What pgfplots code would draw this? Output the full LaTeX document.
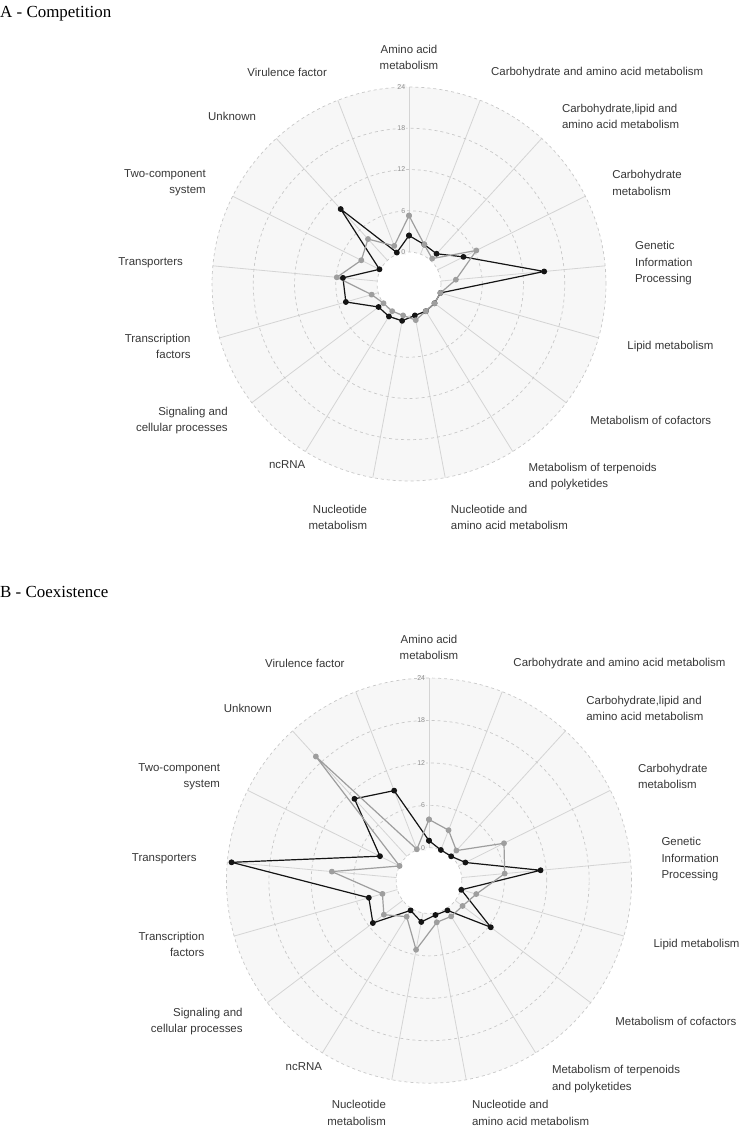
\documentclass[border=0pt]{standalone}
\usepackage{fontspec}
\setmainfont{Liberation Sans}
\newfontfamily\titlefont{Liberation Serif}
\usepackage{pgfplots}
\usepackage{pgfplotstable}
\pgfplotsset{compat=1.18}

\definecolor{bgdisk}{RGB}{247,247,247}
\definecolor{ringc}{RGB}{200,200,200}
\definecolor{spokec}{RGB}{212,212,212}
\definecolor{sBlack}{RGB}{20,20,20}
\definecolor{sGrey}{RGB}{158,158,158}
\definecolor{tickc}{RGB}{140,140,140}
\definecolor{labc}{RGB}{55,55,55}

% k = spoke index (clockwise from top), last row closes the polygon
\pgfplotstableread{
k  black grey
0  2.4   5.3
1  1.5   1.5
2  1.3   0.35
3  4.2   6.3
4  15.1  2.2
5  0.1   0.1
6  0     0
7  0     0
8  0     0.7
9  0.8   0
10 0.9   0
11 0.9   0
12 4.9   1.0
13 5.0   5.9
14 0.15  3.1
15 10.1  4.2
16 0.25  1.3
17 2.4   5.3
}\compA

\pgfplotstableread{
k  black grey
0  1.0   4.0
1  0     3.0
2  0     1.1
3  1.1   7.2
4  11.2  6.1
5  0.1   2.3
6  6.3   1.3
7  0.3   1.3
8  0.3   1.35
9  1.3   5.3
10 0.3   1.35
11 5.3   3.35
12 4.2   2.2
13 23.4  9.15
14 3.1   0
15 11.0  19.1
16 9.0   0.1
17 1.0   4.0
}\coexB

\def\hole{4.65}
\def\outer{28.65}
\def\nucdy{0}
\newcommand{\lab}{\fontsize{11.5}{16.2}\selectfont}

\newcommand{\radargrid}{%
  \fill[bgdisk] (0,0) circle[radius=\outer];
  \fill[white] (0,0) circle[radius=\hole];
  \foreach \k in {0,...,16}
    \draw[spokec, line width=0.8bp] ({90-\k*360/17}:\hole) -- ({90-\k*360/17}:\outer);
  \foreach \v in {0,6,12,18,24}
    \draw[ringc, dash pattern=on 3bp off 3bp, line width=0.7bp] (0,0) circle[radius={\v+\hole}];
  \foreach \v in {0,6,12,18,24}
    \node[anchor=east, font=\fontsize{7}{7}\selectfont, text=tickc, inner sep=0.5bp, fill=bgdisk]
      at (-0.45,{\v+\hole}) {\v};
  \foreach \k/\anc/\al/\dx/\dy/\txt in {
    0/center/center/0/0/{Amino acid\\metabolism},
    1/west/left/0/0/{Carbohydrate and amino acid metabolism},
    2/west/left/0/0/{Carbohydrate,lipid and\\amino acid metabolism},
    3/west/left/0/0/{Carbohydrate\\metabolism},
    4/west/left/0/0/{Genetic\\Information\\Processing},
    5/west/left/0/0/{Lipid metabolism},
    6/west/left/0/0/{Metabolism of cofactors},
    7/west/left/0/0/{Metabolism of terpenoids\\and polyketides},
    8/west/left/0/\nucdy/{Nucleotide and\\amino acid metabolism},
    9/east/right/0/\nucdy/{Nucleotide\\metabolism},
    10/east/right/16/12/{ncRNA},
    11/east/right/0/0/{Signaling and\\cellular processes},
    12/east/right/0/0/{Transcription\\factors},
    13/east/right/0/0/{Transporters},
    14/east/right/0/0/{Two-component\\system},
    15/east/right/0/0/{Unknown},
    16/east/right/0/0/{Virulence factor}}
    \node[anchor=\anc, align=\al, font=\lab, text=labc, inner sep=0pt,
          xshift=\dx bp, yshift=\dy bp] at ({90-\k*360/17}:33) {\txt};
}

\pgfplotsset{
  radar/.style={hide axis, clip=false, anchor=center,
    xmin=-30, xmax=30, ymin=-30, ymax=30},
  black series/.style={sBlack, line width=1.2bp, line join=round, mark=*, mark size=2.3bp,
    mark options={fill=sBlack, draw=sBlack, solid}},
  grey series/.style={sGrey, line width=1.2bp, line join=round, mark=*, mark size=2.3bp,
    mark options={fill=sGrey, draw=sGrey, solid}},
}

\begin{document}
\begin{tikzpicture}
\useasboundingbox (0,0) rectangle (745bp,-1128bp);

% ---------------------------------------------------------------- A
\node[anchor=base west, inner sep=0, font=\titlefont\fontsize{17}{17}\selectfont] at (0,-17bp) {A - Competition};
\def\nucdy{-10}
\begin{scope}[shift={(409bp,-284bp)}, x=6.875bp, y=6.875bp]
  \radargrid
\end{scope}
\begin{axis}[radar, at={(409bp,-284bp)}, x=6.875bp, y=6.875bp]
  \addplot[black series] table[x expr={(\thisrow{black}+\hole)*sin(\thisrow{k}*360/17)},
                               y expr={(\thisrow{black}+\hole)*cos(\thisrow{k}*360/17)}] {\compA};
  \addplot[grey series] table[x expr={(\thisrow{grey}+\hole)*sin(\thisrow{k}*360/17)},
                              y expr={(\thisrow{grey}+\hole)*cos(\thisrow{k}*360/17)}] {\compA};
\end{axis}

% ---------------------------------------------------------------- B
\node[anchor=base west, inner sep=0, font=\titlefont\fontsize{17}{17}\selectfont] at (0,-597bp) {B - Coexistence};
\def\nucdy{-3}
\begin{scope}[shift={(429bp,-880.6bp)}, x=7.07bp, y=7.07bp]
  \radargrid
\end{scope}
\begin{axis}[radar, at={(429bp,-880.6bp)}, x=7.07bp, y=7.07bp]
  \addplot[black series] table[x expr={(\thisrow{black}+\hole)*sin(\thisrow{k}*360/17)},
                               y expr={(\thisrow{black}+\hole)*cos(\thisrow{k}*360/17)}] {\coexB};
  \addplot[grey series] table[x expr={(\thisrow{grey}+\hole)*sin(\thisrow{k}*360/17)},
                              y expr={(\thisrow{grey}+\hole)*cos(\thisrow{k}*360/17)}] {\coexB};
\end{axis}
\end{tikzpicture}
\end{document}
